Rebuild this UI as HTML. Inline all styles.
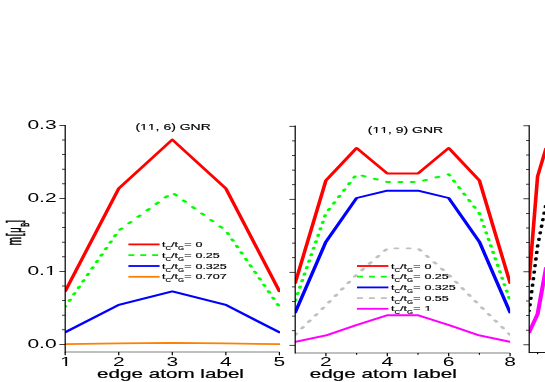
<!DOCTYPE html>
<html><head><meta charset="utf-8"><title>GNR edge magnetization</title>
<style>
html,body{margin:0;padding:0;background:#fff;}
body{width:545px;height:382px;overflow:hidden;font-family:"Liberation Sans",sans-serif;}
svg{display:block;}
text{font-family:"Liberation Sans",sans-serif;fill:#000;font-kerning:none;}
</style></head>
<body>
<svg width="545" height="382" viewBox="0 0 545 382">
<defs>
<clipPath id="c1"><rect x="34.158" y="100" width="113.158" height="260"/></clipPath>
<clipPath id="c2"><rect x="155.211" y="100" width="113.289" height="260"/></clipPath>
<clipPath id="c3"><rect x="278.368" y="100" width="10.526" height="260"/></clipPath>
<filter id="nf" x="0" y="0" width="545" height="382" filterUnits="userSpaceOnUse"><feOffset dx="0" dy="0"/></filter>
</defs>
<rect width="545" height="382" fill="#fff"/>
<g transform="scale(1.9,1)">
<g clip-path="url(#c1)">
<polyline points="34.316,344.15 62.500,343.42 90.684,342.83 118.868,343.42 147.053,344.15" fill="none" stroke="#ff8000" stroke-width="1.7" stroke-linejoin="round" stroke-linecap="round"/>
<polyline points="34.316,332.32 62.500,304.94 90.684,291.44 118.868,304.94 147.053,332.32" fill="none" stroke="#0000ff" stroke-width="1.9" stroke-linejoin="round" stroke-linecap="round"/>
<path d="M34.316 306.77 L34.556 306.12 M36.468 300.95 L36.949 299.65 M38.861 294.48 L39.342 293.18 M41.253 288.01 L41.734 286.71 M43.646 281.54 L44.127 280.24 M46.039 275.07 L46.520 273.77 M48.432 268.60 L48.912 267.30 M50.824 262.13 L51.305 260.83 M53.217 255.66 L53.698 254.36 M55.610 249.19 L56.090 247.89 M58.002 242.72 L58.483 241.42 M60.395 236.25 L60.876 234.95 M63.077 229.78 L64.040 228.48 M67.871 223.31 L68.834 222.01 M72.666 216.84 L73.629 215.54 M77.460 210.37 L78.424 209.07 M82.255 203.90 L83.218 202.60 M87.049 197.43 L88.013 196.13 M91.844 194.09 L92.807 195.39 M96.639 200.56 L97.602 201.86 M101.433 207.03 L102.396 208.33 M106.228 213.50 L107.191 214.80 M111.022 219.97 L111.986 221.27 M115.817 226.44 L116.780 227.74 M119.738 232.91 L120.219 234.21 M122.131 239.38 L122.612 240.68 M124.524 245.85 L125.004 247.15 M126.916 252.32 L127.397 253.62 M129.309 258.79 L129.790 260.09 M131.702 265.26 L132.182 266.56 M134.094 271.73 L134.575 273.03 M136.487 278.20 L136.968 279.50 M138.880 284.67 L139.361 285.97 M141.272 291.14 L141.753 292.44 M143.665 297.61 L144.146 298.91 M146.058 304.08 L146.539 305.38" fill="none" stroke="#00ff00" stroke-width="1.9" stroke-linejoin="round" stroke-linecap="round"/>
<polyline points="34.316,291.22 62.500,188.51 90.684,139.60 118.868,188.51 147.053,291.22" fill="none" stroke="#ff0000" stroke-width="1.9" stroke-linejoin="round" stroke-linecap="round"/>
</g>
<g clip-path="url(#c2)">
<polyline points="155.368,341.81 171.526,335.46 187.684,325.02 203.842,315.31 220.000,315.31 236.158,325.02 252.316,335.46 268.474,341.81" fill="none" stroke="#ff00ff" stroke-width="1.9" stroke-linejoin="round" stroke-linecap="round"/>
<path d="M155.368 334.73 L156.028 333.53 M158.867 328.36 L159.581 327.06 M162.421 321.89 L163.135 320.59 M165.974 315.42 L166.688 314.12 M169.528 308.95 L170.242 307.65 M173.018 302.48 L173.703 301.18 M176.428 296.01 L177.113 294.71 M179.838 289.54 L180.523 288.24 M183.247 283.07 L183.932 281.77 M186.657 276.60 L187.342 275.30 M190.464 270.13 L191.263 268.83 M194.442 263.66 L195.241 262.36 M198.420 257.19 L199.219 255.89 M202.398 250.72 L203.197 249.42 M207.963 248.37 L209.263 248.37 M214.433 248.37 L215.733 248.37 M220.555 249.27 L221.355 250.57 M224.533 255.74 L225.333 257.04 M228.511 262.21 L229.311 263.51 M232.489 268.68 L233.289 269.98 M236.423 275.15 L237.108 276.45 M239.833 281.62 L240.518 282.92 M243.242 288.09 L243.928 289.39 M246.652 294.56 L247.337 295.86 M250.062 301.03 L250.747 302.33 M253.520 307.50 L254.234 308.80 M257.074 313.97 L257.788 315.27 M260.627 320.44 L261.341 321.74 M264.181 326.91 L264.895 328.21 M267.734 333.38 L268.448 334.68" fill="none" stroke="#c0c0c0" stroke-width="1.9" stroke-linejoin="round" stroke-linecap="round"/>
<polyline points="155.368,312.61 171.526,241.80 187.684,198.00 203.842,190.70 220.000,190.70 236.158,198.00 252.316,241.80 268.474,312.61" fill="none" stroke="#0000ff" stroke-width="1.9" stroke-linejoin="round" stroke-linecap="round"/>
<path d="M155.368 300.56 L155.591 299.37 M156.548 294.19 L156.789 292.89 M157.747 287.73 L157.987 286.43 M158.945 281.25 L159.186 279.95 M160.143 274.79 L160.384 273.49 M161.342 268.31 L161.583 267.01 M162.540 261.85 L162.781 260.55 M163.739 255.38 L163.979 254.08 M164.937 248.91 L165.178 247.61 M166.135 242.44 L166.376 241.13 M167.334 235.96 L167.575 234.66 M168.532 229.50 L168.773 228.19 M169.731 223.02 L169.971 221.72 M170.929 216.56 L171.170 215.25 M172.869 210.08 L173.407 208.78 M175.546 203.62 L176.083 202.31 M178.222 197.14 L178.760 195.84 M180.899 190.68 L181.437 189.38 M183.576 184.20 L184.114 182.91 M186.253 177.74 L186.791 176.44 M190.694 175.70 L191.994 176.32 M197.164 178.77 L198.464 179.39 M203.634 181.84 L203.842 181.94 L204.934 181.94 M210.104 181.94 L211.404 181.94 M216.574 181.94 L217.874 181.94 M223.044 180.50 L224.344 179.88 M229.514 177.43 L230.814 176.81 M235.984 174.36 L236.158 174.27 L236.624 175.40 M238.763 180.57 L239.301 181.87 M241.440 187.04 L241.977 188.34 M244.116 193.51 L244.654 194.81 M246.793 199.98 L247.331 201.28 M249.470 206.45 L250.008 207.75 M252.147 212.92 L252.316 213.33 L252.481 214.22 M253.438 219.39 L253.679 220.69 M254.637 225.86 L254.878 227.16 M255.835 232.33 L256.076 233.63 M257.034 238.80 L257.274 240.10 M258.232 245.27 L258.473 246.57 M259.430 251.74 L259.671 253.04 M260.629 258.21 L260.870 259.51 M261.827 264.68 L262.068 265.98 M263.026 271.15 L263.266 272.45 M264.224 277.62 L264.465 278.92 M265.422 284.09 L265.663 285.39 M266.621 290.56 L266.862 291.86 M267.819 297.03 L268.060 298.33" fill="none" stroke="#00ff00" stroke-width="1.9" stroke-linejoin="round" stroke-linecap="round"/>
<polyline points="155.368,283.05 171.526,180.48 187.684,147.99 203.842,173.54 220.000,173.54 236.158,147.99 252.316,180.48 268.474,283.05" fill="none" stroke="#ff0000" stroke-width="1.9" stroke-linejoin="round" stroke-linecap="round"/>
</g>
<g clip-path="url(#c3)">
<polyline points="278.526,332.20 282.947,314.00 287.368,268.00" fill="none" stroke="#ff00ff" stroke-width="2.2" stroke-linejoin="round" stroke-linecap="round"/>
<path d="M278.526 311.00 L278.547 310.70 M278.897 305.55 L278.992 304.15 M279.343 299.00 L279.438 297.60 M279.788 292.45 L279.883 291.05 M280.234 285.90 L280.329 284.50 M280.679 279.35 L280.774 277.95 M281.125 272.80 L281.220 271.40 M281.570 266.25 L281.665 264.85 M282.016 259.70 L282.111 258.30 M282.461 253.15 L282.556 251.75 M282.907 246.60 L282.947 246.00 L283.032 245.20 M283.574 240.05 L283.721 238.65 M284.263 233.50 L284.411 232.10 M284.953 226.95 L285.100 225.55 M285.642 220.40 L285.789 219.00 M286.332 213.85 L286.479 212.45 M287.021 207.30 L287.168 205.90" fill="none" stroke="#000" stroke-width="1.9" stroke-linejoin="round" stroke-linecap="round"/>
<polyline points="278.526,279.30 282.947,176.30 287.368,148.50" fill="none" stroke="#ff0000" stroke-width="1.9" stroke-linejoin="round" stroke-linecap="round"/>
</g>
</g>
<g transform="scale(1.7,1)" filter="url(#nf)">
<line x1="38.353" y1="125.03" x2="38.353" y2="352.38" stroke="#000" stroke-width="0.72" />
<line x1="38.353" y1="352.00" x2="164.353" y2="352.00" stroke="#000" stroke-width="0.62" />
<line x1="34.941" y1="344.40" x2="38.353" y2="344.40" stroke="#000" stroke-width="0.75" />
<g transform="translate(33.294,347.60) scale(0.95,1)"><text font-size="13.0" text-anchor="end" >0.0</text></g>
<line x1="36.471" y1="329.80" x2="38.353" y2="329.80" stroke="#000" stroke-width="0.75" />
<line x1="36.471" y1="315.20" x2="38.353" y2="315.20" stroke="#000" stroke-width="0.75" />
<line x1="36.471" y1="300.60" x2="38.353" y2="300.60" stroke="#000" stroke-width="0.75" />
<line x1="36.471" y1="286.00" x2="38.353" y2="286.00" stroke="#000" stroke-width="0.75" />
<line x1="34.941" y1="271.40" x2="38.353" y2="271.40" stroke="#000" stroke-width="0.75" />
<g transform="translate(33.294,274.60) scale(0.95,1)"><text font-size="13.0" text-anchor="end" >0.1</text><rect x="-6.838" y="-2.080" width="2.880" height="3.380" fill="#fff"/><rect x="-2.811" y="-2.080" width="2.733" height="3.380" fill="#fff"/></g>
<line x1="36.471" y1="256.80" x2="38.353" y2="256.80" stroke="#000" stroke-width="0.75" />
<line x1="36.471" y1="242.20" x2="38.353" y2="242.20" stroke="#000" stroke-width="0.75" />
<line x1="36.471" y1="227.60" x2="38.353" y2="227.60" stroke="#000" stroke-width="0.75" />
<line x1="36.471" y1="213.00" x2="38.353" y2="213.00" stroke="#000" stroke-width="0.75" />
<line x1="34.941" y1="198.40" x2="38.353" y2="198.40" stroke="#000" stroke-width="0.75" />
<g transform="translate(33.294,201.60) scale(0.95,1)"><text font-size="13.0" text-anchor="end" >0.2</text></g>
<line x1="36.471" y1="183.80" x2="38.353" y2="183.80" stroke="#000" stroke-width="0.75" />
<line x1="36.471" y1="169.20" x2="38.353" y2="169.20" stroke="#000" stroke-width="0.75" />
<line x1="36.471" y1="154.60" x2="38.353" y2="154.60" stroke="#000" stroke-width="0.75" />
<line x1="36.471" y1="140.00" x2="38.353" y2="140.00" stroke="#000" stroke-width="0.75" />
<line x1="34.941" y1="125.40" x2="38.353" y2="125.40" stroke="#000" stroke-width="0.75" />
<g transform="translate(33.294,128.60) scale(0.95,1)"><text font-size="13.0" text-anchor="end" >0.3</text></g>
<line x1="38.353" y1="352.00" x2="38.353" y2="355.30" stroke="#000" stroke-width="0.72" />
<g transform="translate(38.706,366.30) scale(0.95,1)"><text font-size="13.0" text-anchor="middle" >1</text><rect x="-3.224" y="-2.080" width="2.880" height="3.380" fill="#fff"/><rect x="0.803" y="-2.080" width="2.733" height="3.380" fill="#fff"/></g>
<line x1="69.853" y1="352.00" x2="69.853" y2="355.30" stroke="#000" stroke-width="0.72" />
<g transform="translate(69.853,366.30) scale(0.95,1)"><text font-size="13.0" text-anchor="middle" >2</text></g>
<line x1="101.353" y1="352.00" x2="101.353" y2="355.30" stroke="#000" stroke-width="0.72" />
<g transform="translate(101.353,366.30) scale(0.95,1)"><text font-size="13.0" text-anchor="middle" >3</text></g>
<line x1="132.853" y1="352.00" x2="132.853" y2="355.30" stroke="#000" stroke-width="0.72" />
<g transform="translate(132.853,366.30) scale(0.95,1)"><text font-size="13.0" text-anchor="middle" >4</text></g>
<line x1="164.353" y1="352.00" x2="164.353" y2="355.30" stroke="#000" stroke-width="0.72" />
<g transform="translate(164.353,366.30) scale(0.95,1)"><text font-size="13.0" text-anchor="middle" >5</text></g>
<g transform="translate(79.647,130.40) scale(0.98,1)"><text font-size="8.4" text-anchor="start" stroke="#000" stroke-width="0.15">(11, 6) GNR</text><rect x="3.049" y="-1.344" width="1.861" height="2.184" fill="#fff"/><rect x="5.652" y="-1.344" width="1.766" height="2.184" fill="#fff"/><rect x="7.720" y="-1.344" width="1.861" height="2.184" fill="#fff"/><rect x="10.322" y="-1.344" width="1.766" height="2.184" fill="#fff"/></g>
<g transform="translate(100.294,377.90) scale(1.0,1)"><text font-size="12.15" text-anchor="middle" stroke="#000" stroke-width="0.2">edge atom label</text></g>
<polyline points="75.529,244.40 93.882,244.40" fill="none" stroke="#ff0000" stroke-width="1.8" stroke-linejoin="round" />
<g transform="translate(95.294,247.00) scale(1.015,1)"><text font-size="7.3" text-anchor="start" stroke="#000" stroke-width="0.15">t<tspan font-size="4.5" dy="2.9">C</tspan><tspan dy="-2.9">/t</tspan><tspan font-size="4.5" dy="2.9">G</tspan><tspan dy="-2.9">=</tspan><tspan dx="2.25">0</tspan></text></g>
<polyline points="75.529,255.20 93.882,255.20" fill="none" stroke="#00ff00" stroke-width="1.8" stroke-linejoin="round" stroke-dasharray="3.5 3.5" />
<g transform="translate(95.294,257.80) scale(1.015,1)"><text font-size="7.3" text-anchor="start" stroke="#000" stroke-width="0.15">t<tspan font-size="4.5" dy="2.9">C</tspan><tspan dy="-2.9">/t</tspan><tspan font-size="4.5" dy="2.9">G</tspan><tspan dy="-2.9">=</tspan><tspan dx="2.25">0.25</tspan></text></g>
<polyline points="75.529,266.00 93.882,266.00" fill="none" stroke="#0000ff" stroke-width="1.8" stroke-linejoin="round" />
<g transform="translate(95.294,268.60) scale(1.015,1)"><text font-size="7.3" text-anchor="start" stroke="#000" stroke-width="0.15">t<tspan font-size="4.5" dy="2.9">C</tspan><tspan dy="-2.9">/t</tspan><tspan font-size="4.5" dy="2.9">G</tspan><tspan dy="-2.9">=</tspan><tspan dx="2.25">0.325</tspan></text></g>
<polyline points="75.529,276.80 93.882,276.80" fill="none" stroke="#ff8000" stroke-width="1.8" stroke-linejoin="round" />
<g transform="translate(95.294,279.40) scale(1.015,1)"><text font-size="7.3" text-anchor="start" stroke="#000" stroke-width="0.15">t<tspan font-size="4.5" dy="2.9">C</tspan><tspan dy="-2.9">/t</tspan><tspan font-size="4.5" dy="2.9">G</tspan><tspan dy="-2.9">=</tspan><tspan dx="2.25">0.707</tspan></text></g>
<g transform="translate(12.294,245.4) rotate(-90) scale(1,1.2)" stroke="#000" stroke-width="0.3"><text font-size="10.3" x="0 9.1" y="0">m[</text><text font-size="9.4" x="12.6" y="0">μ</text><text font-size="5.8" x="18.55" y="3.9">B</text><text font-size="10.3" x="22.7" y="0">]</text></g>
<line x1="173.647" y1="125.62" x2="173.647" y2="353.38" stroke="#000" stroke-width="0.72" />
<line x1="173.647" y1="353.00" x2="300.059" y2="353.00" stroke="#000" stroke-width="0.62" />
<line x1="170.235" y1="345.30" x2="173.647" y2="345.30" stroke="#000" stroke-width="0.75" />
<line x1="171.765" y1="330.70" x2="173.647" y2="330.70" stroke="#000" stroke-width="0.75" />
<line x1="171.765" y1="316.10" x2="173.647" y2="316.10" stroke="#000" stroke-width="0.75" />
<line x1="171.765" y1="301.50" x2="173.647" y2="301.50" stroke="#000" stroke-width="0.75" />
<line x1="171.765" y1="286.90" x2="173.647" y2="286.90" stroke="#000" stroke-width="0.75" />
<line x1="170.235" y1="272.30" x2="173.647" y2="272.30" stroke="#000" stroke-width="0.75" />
<line x1="171.765" y1="257.70" x2="173.647" y2="257.70" stroke="#000" stroke-width="0.75" />
<line x1="171.765" y1="243.10" x2="173.647" y2="243.10" stroke="#000" stroke-width="0.75" />
<line x1="171.765" y1="228.50" x2="173.647" y2="228.50" stroke="#000" stroke-width="0.75" />
<line x1="171.765" y1="213.90" x2="173.647" y2="213.90" stroke="#000" stroke-width="0.75" />
<line x1="170.235" y1="199.30" x2="173.647" y2="199.30" stroke="#000" stroke-width="0.75" />
<line x1="171.765" y1="184.70" x2="173.647" y2="184.70" stroke="#000" stroke-width="0.75" />
<line x1="171.765" y1="170.10" x2="173.647" y2="170.10" stroke="#000" stroke-width="0.75" />
<line x1="171.765" y1="155.50" x2="173.647" y2="155.50" stroke="#000" stroke-width="0.75" />
<line x1="171.765" y1="140.90" x2="173.647" y2="140.90" stroke="#000" stroke-width="0.75" />
<line x1="170.235" y1="126.30" x2="173.647" y2="126.30" stroke="#000" stroke-width="0.75" />
<line x1="191.706" y1="353.00" x2="191.706" y2="356.30" stroke="#000" stroke-width="0.72" />
<g transform="translate(191.706,366.30) scale(0.95,1)"><text font-size="13.0" text-anchor="middle" >2</text></g>
<line x1="227.824" y1="353.00" x2="227.824" y2="356.30" stroke="#000" stroke-width="0.72" />
<g transform="translate(227.824,366.30) scale(0.95,1)"><text font-size="13.0" text-anchor="middle" >4</text></g>
<line x1="263.941" y1="353.00" x2="263.941" y2="356.30" stroke="#000" stroke-width="0.72" />
<g transform="translate(263.941,366.30) scale(0.95,1)"><text font-size="13.0" text-anchor="middle" >6</text></g>
<line x1="300.059" y1="353.00" x2="300.059" y2="356.30" stroke="#000" stroke-width="0.72" />
<g transform="translate(300.059,366.30) scale(0.95,1)"><text font-size="13.0" text-anchor="middle" >8</text></g>
<line x1="209.765" y1="353.00" x2="209.765" y2="354.70" stroke="#000" stroke-width="0.72" />
<line x1="245.882" y1="353.00" x2="245.882" y2="354.70" stroke="#000" stroke-width="0.72" />
<line x1="282.000" y1="353.00" x2="282.000" y2="354.70" stroke="#000" stroke-width="0.72" />
<g transform="translate(216.353,132.90) scale(0.98,1)"><text font-size="8.4" text-anchor="start" stroke="#000" stroke-width="0.15">(11, 9) GNR</text><rect x="3.049" y="-1.344" width="1.861" height="2.184" fill="#fff"/><rect x="5.652" y="-1.344" width="1.766" height="2.184" fill="#fff"/><rect x="7.720" y="-1.344" width="1.861" height="2.184" fill="#fff"/><rect x="10.322" y="-1.344" width="1.766" height="2.184" fill="#fff"/></g>
<g transform="translate(225.471,377.90) scale(1.0,1)"><text font-size="12.15" text-anchor="middle" stroke="#000" stroke-width="0.2">edge atom label</text></g>
<polyline points="210.000,266.00 228.471,266.00" fill="none" stroke="#ff0000" stroke-width="1.8" stroke-linejoin="round" />
<g transform="translate(230.000,268.60) scale(1.015,1)"><text font-size="7.3" text-anchor="start" stroke="#000" stroke-width="0.15">t<tspan font-size="4.5" dy="2.9">C</tspan><tspan dy="-2.9">/t</tspan><tspan font-size="4.5" dy="2.9">G</tspan><tspan dy="-2.9">=</tspan><tspan dx="2.25">0</tspan></text></g>
<polyline points="210.000,276.70 228.471,276.70" fill="none" stroke="#00ff00" stroke-width="1.8" stroke-linejoin="round" stroke-dasharray="3.5 3.5" />
<g transform="translate(230.000,279.30) scale(1.015,1)"><text font-size="7.3" text-anchor="start" stroke="#000" stroke-width="0.15">t<tspan font-size="4.5" dy="2.9">C</tspan><tspan dy="-2.9">/t</tspan><tspan font-size="4.5" dy="2.9">G</tspan><tspan dy="-2.9">=</tspan><tspan dx="2.25">0.25</tspan></text></g>
<polyline points="210.000,287.40 228.471,287.40" fill="none" stroke="#0000ff" stroke-width="1.8" stroke-linejoin="round" />
<g transform="translate(230.000,290.00) scale(1.015,1)"><text font-size="7.3" text-anchor="start" stroke="#000" stroke-width="0.15">t<tspan font-size="4.5" dy="2.9">C</tspan><tspan dy="-2.9">/t</tspan><tspan font-size="4.5" dy="2.9">G</tspan><tspan dy="-2.9">=</tspan><tspan dx="2.25">0.325</tspan></text></g>
<polyline points="210.000,298.10 228.471,298.10" fill="none" stroke="#c0c0c0" stroke-width="1.8" stroke-linejoin="round" stroke-dasharray="3.5 3.5" />
<g transform="translate(230.000,300.70) scale(1.015,1)"><text font-size="7.3" text-anchor="start" stroke="#000" stroke-width="0.15">t<tspan font-size="4.5" dy="2.9">C</tspan><tspan dy="-2.9">/t</tspan><tspan font-size="4.5" dy="2.9">G</tspan><tspan dy="-2.9">=</tspan><tspan dx="2.25">0.55</tspan></text></g>
<polyline points="210.000,308.80 228.471,308.80" fill="none" stroke="#ff00ff" stroke-width="1.8" stroke-linejoin="round" />
<g transform="translate(230.000,311.40) scale(1.015,1)"><text font-size="7.3" text-anchor="start" stroke="#000" stroke-width="0.15">t<tspan font-size="4.5" dy="2.9">C</tspan><tspan dy="-2.9">/t</tspan><tspan font-size="4.5" dy="2.9">G</tspan><tspan dy="-2.9">=</tspan><tspan dx="2.25">1</tspan></text></g>
<g transform="translate(230.000,311.40) scale(1.015,1)"><rect x="19.570" y="-1.168" width="1.617" height="1.898" fill="#fff"/><rect x="21.832" y="-1.168" width="1.534" height="1.898" fill="#fff"/></g>
<line x1="311.294" y1="125.22" x2="311.294" y2="352.88" stroke="#000" stroke-width="0.72" />
<line x1="311.294" y1="352.50" x2="321.176" y2="352.50" stroke="#000" stroke-width="0.9" />
<line x1="307.882" y1="344.80" x2="311.294" y2="344.80" stroke="#000" stroke-width="0.75" />
<line x1="309.412" y1="330.20" x2="311.294" y2="330.20" stroke="#000" stroke-width="0.75" />
<line x1="309.412" y1="315.60" x2="311.294" y2="315.60" stroke="#000" stroke-width="0.75" />
<line x1="309.412" y1="301.00" x2="311.294" y2="301.00" stroke="#000" stroke-width="0.75" />
<line x1="309.412" y1="286.40" x2="311.294" y2="286.40" stroke="#000" stroke-width="0.75" />
<line x1="307.882" y1="271.80" x2="311.294" y2="271.80" stroke="#000" stroke-width="0.75" />
<line x1="309.412" y1="257.20" x2="311.294" y2="257.20" stroke="#000" stroke-width="0.75" />
<line x1="309.412" y1="242.60" x2="311.294" y2="242.60" stroke="#000" stroke-width="0.75" />
<line x1="309.412" y1="228.00" x2="311.294" y2="228.00" stroke="#000" stroke-width="0.75" />
<line x1="309.412" y1="213.40" x2="311.294" y2="213.40" stroke="#000" stroke-width="0.75" />
<line x1="307.882" y1="198.80" x2="311.294" y2="198.80" stroke="#000" stroke-width="0.75" />
<line x1="309.412" y1="184.20" x2="311.294" y2="184.20" stroke="#000" stroke-width="0.75" />
<line x1="309.412" y1="169.60" x2="311.294" y2="169.60" stroke="#000" stroke-width="0.75" />
<line x1="309.412" y1="155.00" x2="311.294" y2="155.00" stroke="#000" stroke-width="0.75" />
<line x1="309.412" y1="140.40" x2="311.294" y2="140.40" stroke="#000" stroke-width="0.75" />
<line x1="307.882" y1="125.80" x2="311.294" y2="125.80" stroke="#000" stroke-width="0.75" />
<line x1="316.235" y1="352.50" x2="316.235" y2="354.20" stroke="#000" stroke-width="0.72" />
</g>
</svg>
</body></html>
